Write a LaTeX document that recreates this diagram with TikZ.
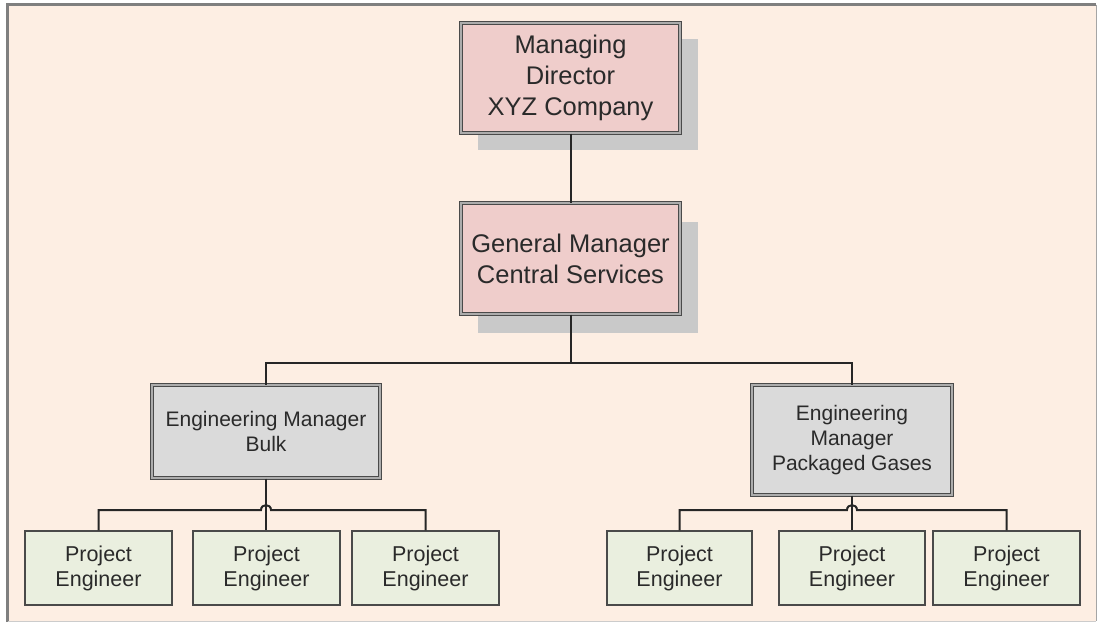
\documentclass[tikz,border=0pt]{standalone}
\usepackage{fontspec}
\setmainfont{Liberation Sans}
\definecolor{bgc}{HTML}{FDEEE3}
\definecolor{pinkc}{HTML}{EFCDCB}
\definecolor{grayc}{HTML}{DADADA}
\definecolor{greenc}{HTML}{EAEFDF}
\definecolor{shadc}{HTML}{C9C9C9}
\definecolor{framec}{HTML}{7F7F7F}
\definecolor{txtc}{HTML}{2A2A2A}
\definecolor{linec}{HTML}{4A4A4A}
\tikzset{
  dbox/.style={draw=linec, double=gray!65, double distance=1.4pt, line width=1pt,
    align=center, text=txtc, inner sep=0pt},
  topbox/.style={dbox, fill=pinkc, font=\fontsize{25.5}{31}\selectfont},
  midbox/.style={dbox, fill=grayc, font=\fontsize{21}{25}\selectfont},
  projbox/.style={draw=linec, line width=1.5pt, fill=greenc, align=center, text=txtc,
    inner sep=0pt, minimum height=74pt, font=\fontsize{21.5}{25}\selectfont},
  conn/.style={draw=black!85, line width=2pt},
  shadow/.style={fill=shadc, draw=none}
}
\begin{document}
\begin{tikzpicture}[x=1pt,y=-1pt]
\useasboundingbox (0,0) rectangle (1097,622);
\fill[white] (0,0) rectangle (1097,622);
\fill[bgc] (7,4) rectangle (1096,621);
\draw[framec, line width=3pt] (7.5,622) -- (7.5,4.5) -- (1096,4.5);
\draw[framec!70, line width=1pt] (1096,4.5) -- (1096,621);
\draw[black!20, line width=0.8pt] (7.5,621.5) -- (1096,621.5);
% shadows
\fill[shadow] (478,39) rectangle (698,150);
\fill[shadow] (478,222) rectangle (698,333);
% nodes
\node[topbox, minimum width=219pt, minimum height=110pt] (md) at (570.5,78) {Managing\\Director\\XYZ Company};
\node[topbox, minimum width=219pt, minimum height=111pt] (gm) at (570.5,258.5) {General Manager\\Central Services};
\node[midbox, minimum width=228pt, minimum height=93pt] (emb) at (266,431.5) {Engineering Manager\\Bulk};
\node[midbox, minimum width=200pt, minimum height=110pt] (emp) at (852,440) {Engineering\\Manager\\Packaged Gases};
\node[projbox, minimum width=147pt] (p1) at (98.5,568) {Project\\Engineer};
\node[projbox, minimum width=147pt] (p2) at (266.5,568) {Project\\Engineer};
\node[projbox, minimum width=147pt] (p3) at (425.5,568) {Project\\Engineer};
\node[projbox, minimum width=145pt] (p4) at (679.5,568) {Project\\Engineer};
\node[projbox, minimum width=146pt] (p5) at (852,568) {Project\\Engineer};
\node[projbox, minimum width=147pt] (p6) at (1006.5,568) {Project\\Engineer};
% connectors
\coordinate (bus) at (570.5,363);
\draw[conn] (md.south) -- (gm.south |- md.south) -- (gm.north);
\draw[conn] (gm.south) -- (bus);
\draw[conn] (emb.north) -- (emb.north |- bus) -- (emp.north |- bus) -- (emp.north);
\draw[conn] (emb.south) -- (p2.north -| emb.south);
\draw[conn] (emp.south) -- (p5.north -| emp.south);
\draw[conn] (p1.north) -- (p1.north |- 0,510) -- (261,510) .. controls (261,503.5) and (271,503.5) .. (271,510) -- (p3.north |- 0,510) -- (p3.north);
\draw[conn] (p4.north) -- (p4.north |- 0,510) -- (847,510) .. controls (847,503.5) and (857,503.5) .. (857,510) -- (p6.north |- 0,510) -- (p6.north);
\end{tikzpicture}
\end{document}
